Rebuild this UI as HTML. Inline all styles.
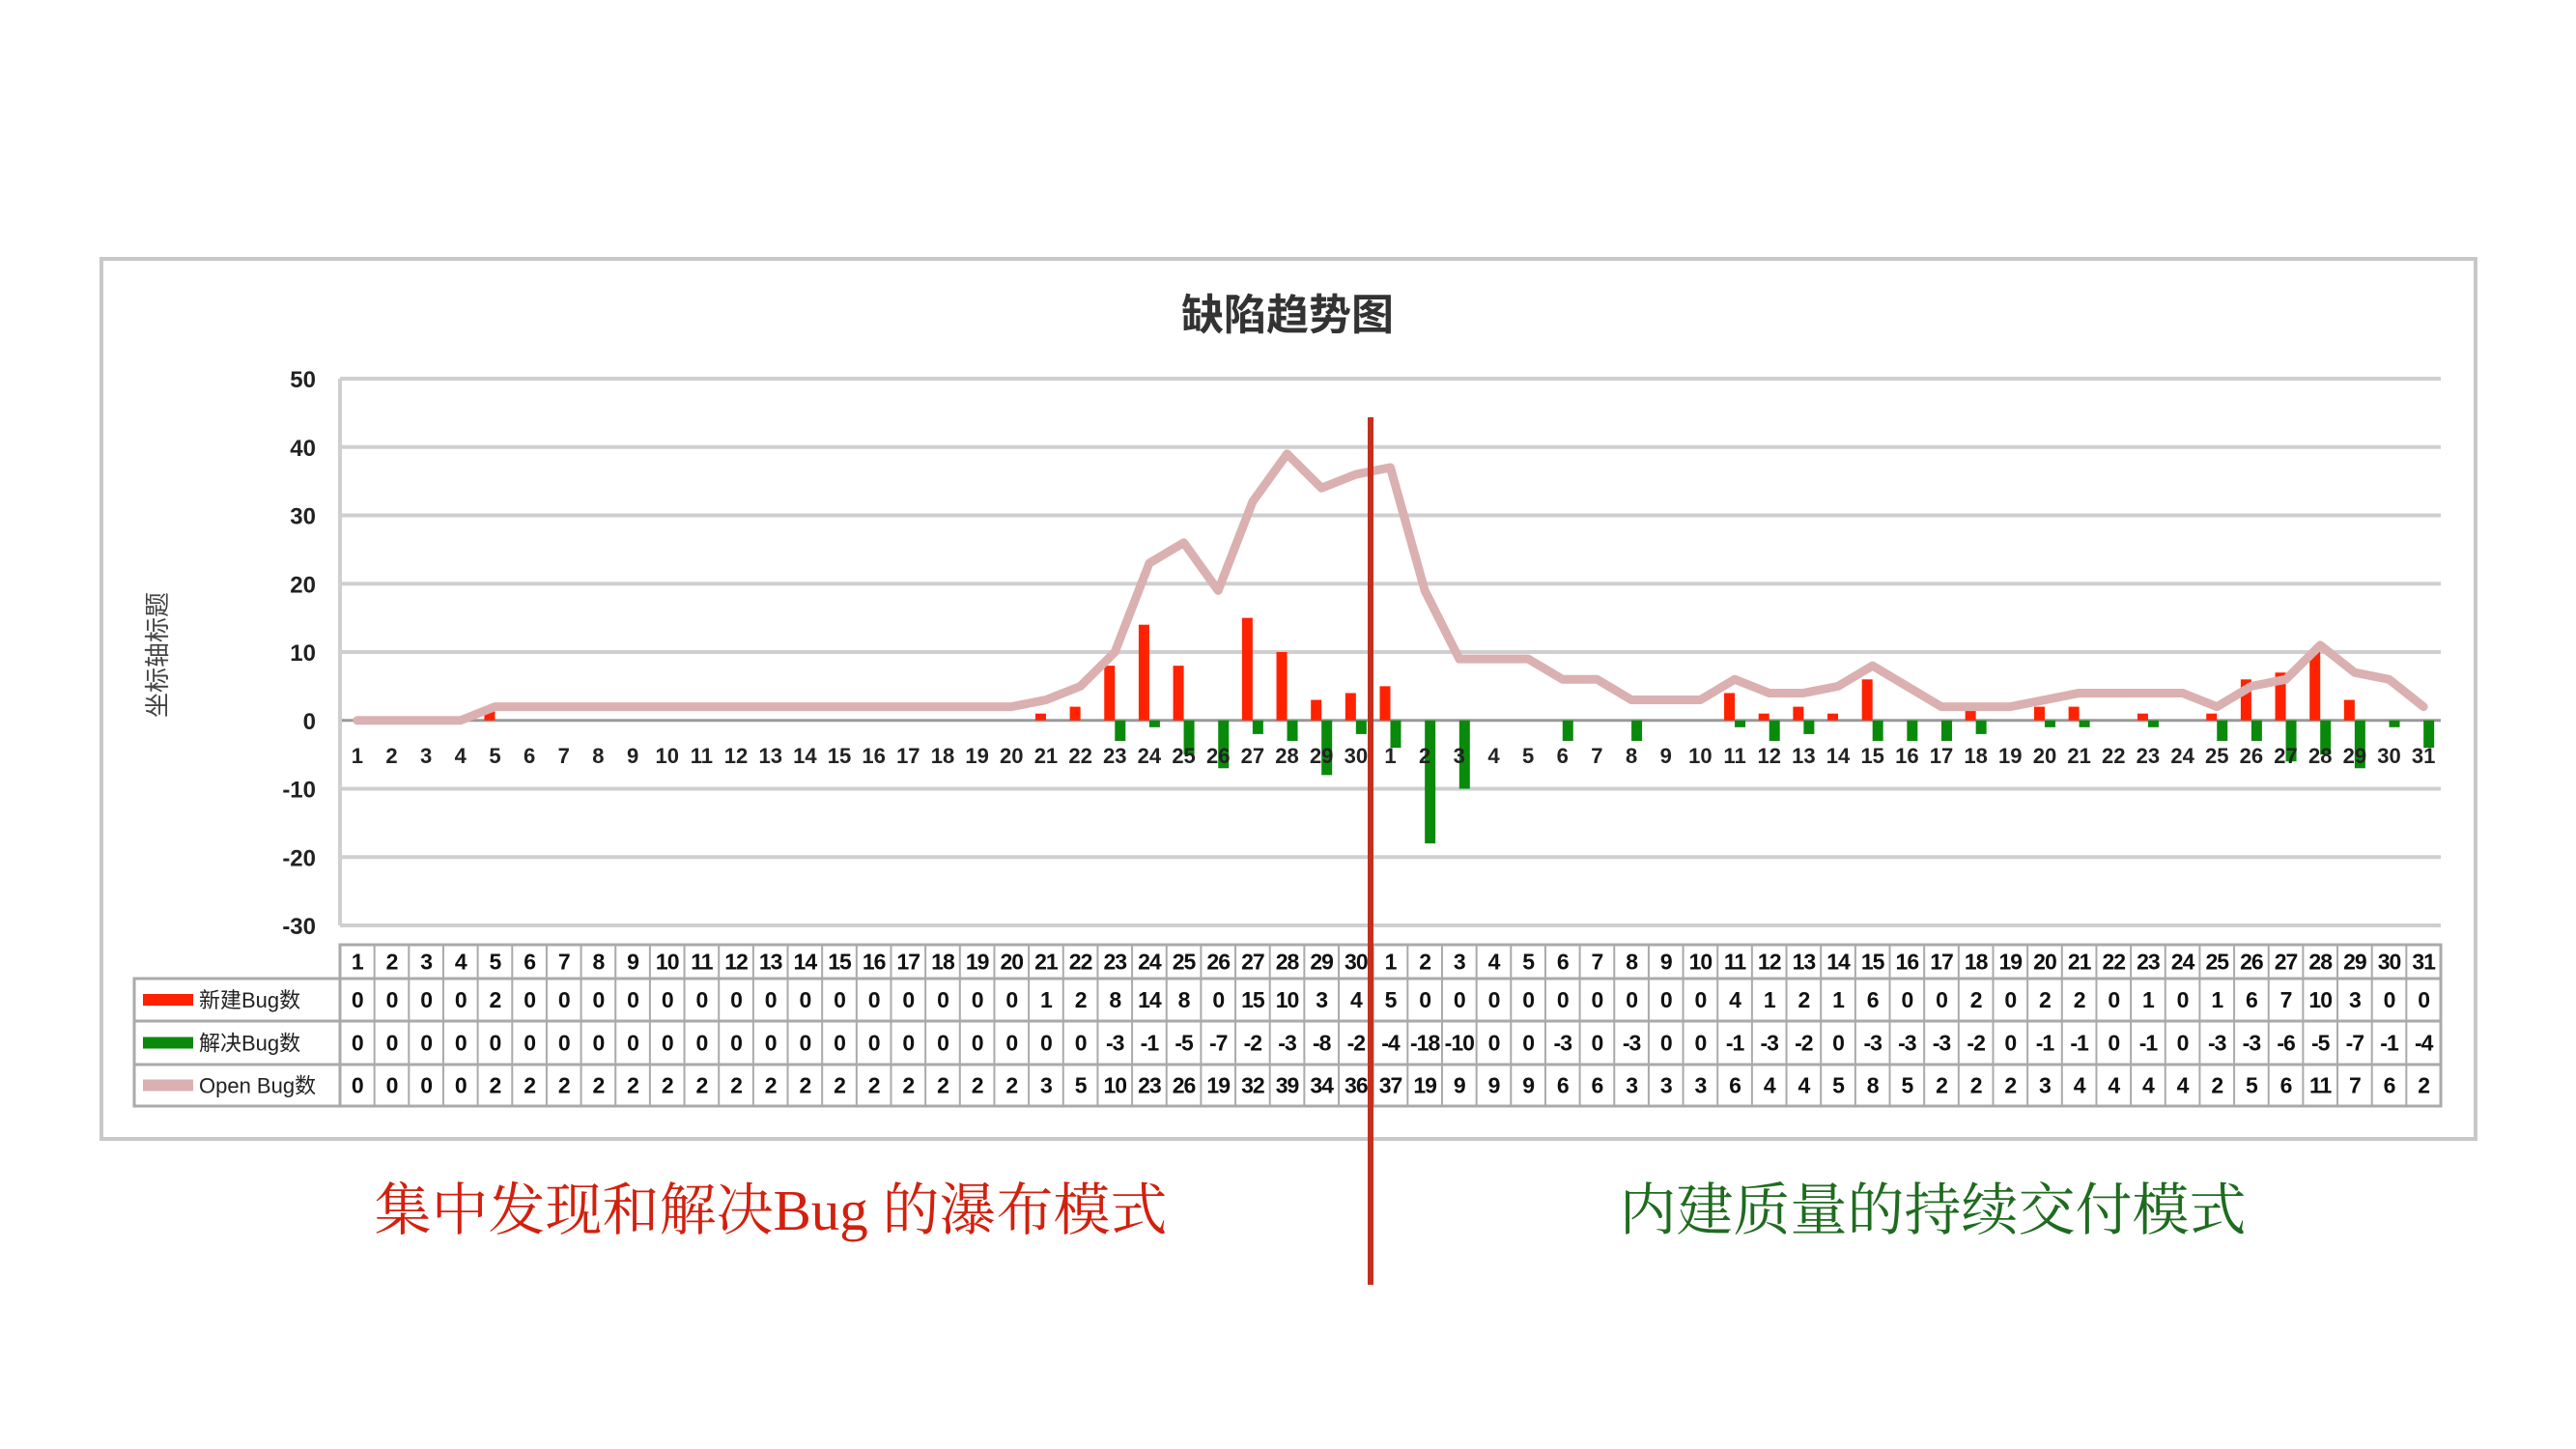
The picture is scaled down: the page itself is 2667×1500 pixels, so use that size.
<!DOCTYPE html>
<html><head><meta charset="utf-8"><style>
html,body{margin:0;padding:0;background:#fff;}
svg{display:block;}
text{font-family:"Liberation Sans","Noto Sans CJK SC",sans-serif;}
</style></head><body>
<svg id="chart" width="2667" height="1500" viewBox="0 0 2667 1500">
<rect x="105" y="268" width="2458" height="911" fill="#fff" stroke="#c8c8c8" stroke-width="4"/>
<text x="1333" y="341" text-anchor="middle" font-size="44" font-weight="bold" fill="#333">缺陷趋势图</text>
<text transform="translate(172,678) rotate(-90)" text-anchor="middle" font-size="26" fill="#444">坐标轴标题</text>
<g id="grid"></g><g id="bars"></g><g id="line"></g><g id="xlabels"></g><g id="table"></g>
<line x1="1419" y1="432" x2="1419" y2="1330" stroke="#c4301e" stroke-width="6"/>
<text x="798" y="1273" text-anchor="middle" font-size="59" fill="#d2200f" style="font-family:'Liberation Serif','Noto Serif CJK SC',serif">集中发现和解决Bug 的瀑布模式</text>
<text x="2001" y="1273" text-anchor="middle" font-size="59" fill="#1f6b1f" style="font-family:'Liberation Serif','Noto Serif CJK SC',serif">内建质量的持续交付模式</text>
</svg>
<script>
const days = [1,2,3,4,5,6,7,8,9,10,11,12,13,14,15,16,17,18,19,20,21,22,23,24,25,26,27,28,29,30,1,2,3,4,5,6,7,8,9,10,11,12,13,14,15,16,17,18,19,20,21,22,23,24,25,26,27,28,29,30,31];
const newBugs = [0,0,0,0,2,0,0,0,0,0,0,0,0,0,0,0,0,0,0,0,1,2,8,14,8,0,15,10,3,4,5,0,0,0,0,0,0,0,0,0,4,1,2,1,6,0,0,2,0,2,2,0,1,0,1,6,7,10,3,0,0];
const resolvedBugs = [0,0,0,0,0,0,0,0,0,0,0,0,0,0,0,0,0,0,0,0,0,0,-3,-1,-5,-7,-2,-3,-8,-2,-4,-18,-10,0,0,-3,0,-3,0,0,-1,-3,-2,0,-3,-3,-3,-2,0,-1,-1,0,-1,0,-3,-3,-6,-5,-7,-1,-4];
const openBugs = [0,0,0,0,2,2,2,2,2,2,2,2,2,2,2,2,2,2,2,2,3,5,10,23,26,19,32,39,34,36,37,19,9,9,9,6,6,3,3,3,6,4,4,5,8,5,2,2,2,3,4,4,4,4,2,5,6,11,7,6,2];
const yTicks = [50,40,30,20,10,0,-10,-20,-30];
const seriesNames = ["新建Bug数","解决Bug数","Open Bug数"];

const NS="http://www.w3.org/2000/svg";
const L=352,R=2527,T=392,B=958,yMax=50,yMin=-30;
const cw=(R-L)/days.length;
const y=v=>T+(yMax-v)*(B-T)/(yMax-yMin);
const xc=i=>L+cw*(i+0.5);
function mk(tag,attrs,parent){const e=document.createElementNS(NS,tag);for(const k in attrs)e.setAttribute(k,attrs[k]);parent.appendChild(e);return e;}
const grid=document.getElementById('grid');
yTicks.forEach(t=>{
  const ln=mk('line',{x1:L,x2:R,y1:y(t),y2:y(t),stroke:t===0?'#999':'#cfcfcf','stroke-width':t===0?3:4},grid);
  
  
  const tx=mk('text',{x:327,y:y(t)+9,'text-anchor':'end','font-size':24,'font-weight':'bold',fill:'#222'},grid);
  tx.textContent=t;
  
  
});
const ax=mk('line',{x1:L,x2:L,y1:T,y2:B,stroke:'#cfcfcf','stroke-width':4},grid);


const bars=document.getElementById('bars');
const bw=11;
newBugs.forEach((v,i)=>{
  if(!v)return;
  const r=mk('rect',{x:xc(i)-bw,y:y(v),width:bw,height:y(0)-y(v),fill:'#ff2200'},bars);
  
  
});
resolvedBugs.forEach((v,i)=>{
  if(!v)return;
  const r=mk('rect',{x:xc(i),y:y(0),width:bw,height:y(v)-y(0),fill:'#0a8a0a'},bars);
  
  
});
const pts=openBugs.map((v,i)=>xc(i)+','+y(v)).join(' ');
const pl=mk('polyline',{points:pts,fill:'none',stroke:'#dbb0b0','stroke-width':9,'stroke-linejoin':'round','stroke-linecap':'round'},document.getElementById('line'));


const xl=document.getElementById('xlabels');
days.forEach((d,i)=>{
  const t=mk('text',{x:xc(i),y:790,'text-anchor':'middle','font-size':22,'font-weight':'bold',fill:'#222'},xl);
  t.textContent=d;
  
  
});
const tb=document.getElementById('table');
const rows=[978,1013,1057,1102,1145];
const LX=139;
mk('rect',{x:L,y:rows[0],width:R-L,height:rows[4]-rows[0],fill:'none',stroke:'#aaa','stroke-width':3},tb);
mk('rect',{x:LX,y:rows[1],width:R-LX,height:rows[4]-rows[1],fill:'none',stroke:'#aaa','stroke-width':3},tb);
for(let r=1;r<4;r++){mk('line',{x1:r===1?L:LX,x2:R,y1:rows[r],y2:rows[r],stroke:'#aaa','stroke-width':3},tb);}
mk('line',{x1:LX,x2:R,y1:rows[1],y2:rows[1],stroke:'#aaa','stroke-width':3},tb);
for(let i=0;i<=days.length;i++){mk('line',{x1:L+cw*i,x2:L+cw*i,y1:rows[0],y2:rows[4],stroke:'#aaa','stroke-width':2},tb);}
const rowData=[days,newBugs,resolvedBugs,openBugs];
rowData.forEach((arr,r)=>{
  arr.forEach((v,i)=>{
    const t=mk('text',{x:xc(i),y:(rows[r]+rows[r+1])/2+8,'text-anchor':'middle','font-size':23,'font-weight':'bold',fill:'#111','letter-spacing':'-1'},tb);
    t.textContent=v;
    
    
  });
});
const swc=['#ff2200','#0a8a0a','#dbb0b0'];
seriesNames.forEach((n,k)=>{
  const cy=(rows[k+1]+rows[k+2])/2;
  const s=mk('rect',{x:148,y:cy-6,width:52,height:12,fill:swc[k]},tb);
  
  
  const t=mk('text',{x:206,y:cy+8,'font-size':22,fill:'#222'},tb);
  t.textContent=n;
  
  
});
</script>
</body></html>
